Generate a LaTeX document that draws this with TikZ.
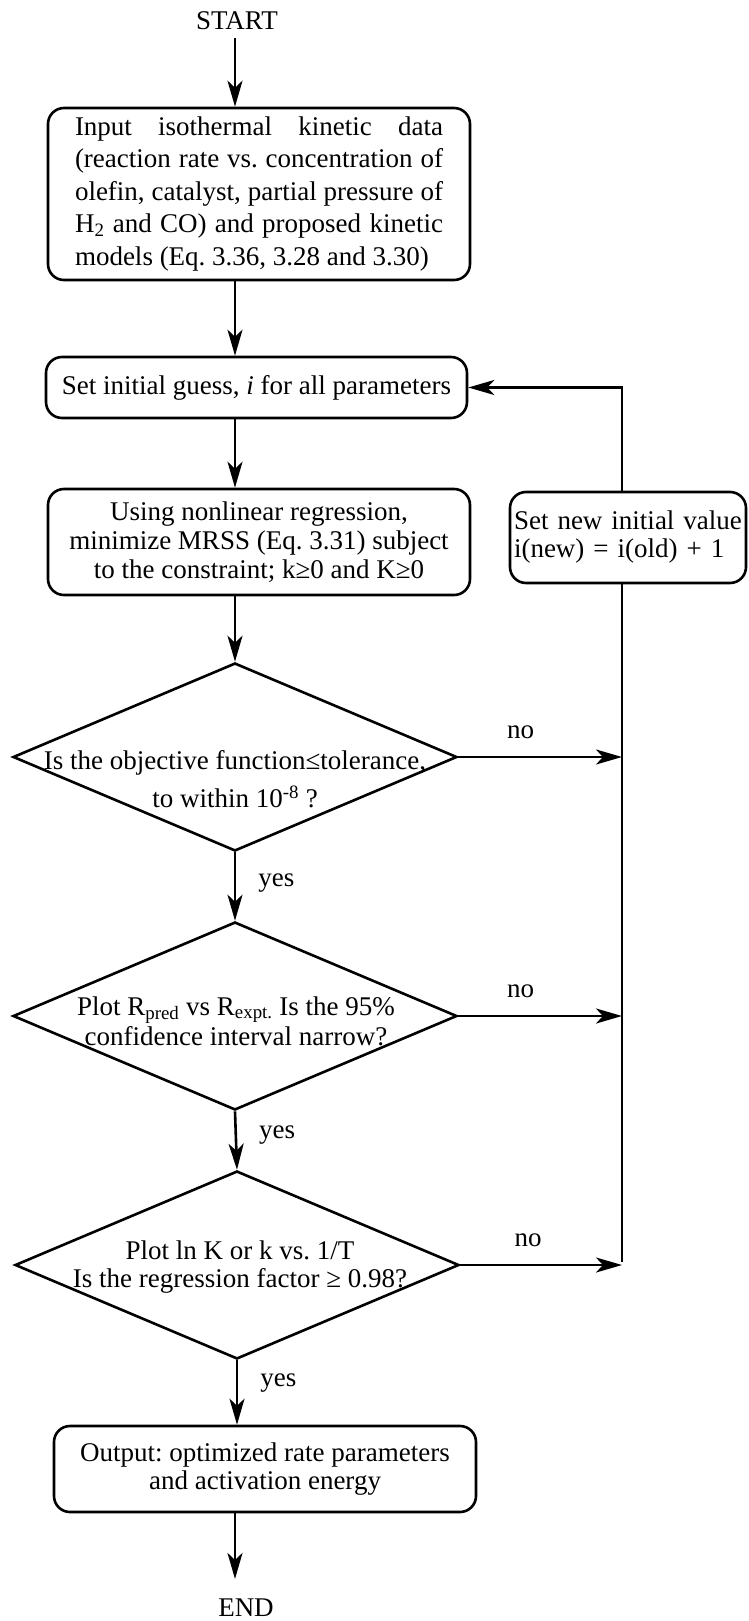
\documentclass[tikz,border=0pt]{standalone}
\usepackage{fontspec}
\setmainfont{Liberation Serif}
\usetikzlibrary{arrows.meta,shapes.geometric,calc}
\begin{document}
\begin{tikzpicture}[x=1pt,y=-1pt,
  every node/.style={font=\fontsize{27}{32.5}\selectfont\frenchspacing},
  box/.style={draw, line width=2.6pt, rounded corners=16pt, inner sep=0pt},
  dia/.style={draw, diamond, line width=2.6pt, inner sep=0pt, minimum width=444pt, minimum height=188pt},
  arr/.style={line width=2.6pt, -{Stealth[length=26pt,width=15pt,inset=7pt]}},
  ln/.style={line width=2.6pt},
  lab/.style={inner sep=0pt},
  yeslab/.style={lab, right=22pt},
  nolab/.style={lab, above=17pt}]
\useasboundingbox (0,0) rectangle (748,1621);

\coordinate (ax) at (235,0);
\coordinate (c) at (622,1262);

\node[lab] (start) at (237,21) {START};

\node[box, minimum width=422pt, minimum height=172pt] (b1) at (259,194) {\parbox{368pt}{%
\makebox[368pt][s]{Input isothermal kinetic data}\\
\makebox[368pt][s]{(reaction rate vs. concentration of}\\
\makebox[368pt][s]{olefin, catalyst, partial pressure of}\\
\makebox[368pt][s]{H\textsubscript{2} and CO) and proposed kinetic}\\
models (Eq. 3.36, 3.28 and 3.30)}};

\node[box, minimum width=421pt, minimum height=61pt] (b2) at (256.5,387.5) {Set initial guess, \textit{i} for all parameters};

\node[box, minimum width=422pt, minimum height=106pt, align=center,
  font=\fontsize{27}{29}\selectfont\frenchspacing] (b3) at (259,542)
  {Using nonlinear regression,\\minimize MRSS (Eq. 3.31) subject\\to the constraint; k≥0 and K≥0};

\node[box, minimum width=236pt, minimum height=91pt, align=left, text width=228pt,
  font=\fontsize{27}{28}\selectfont\frenchspacing] (rb) at (628,537.5)
  {Set new initial value\\i(new) = i(old) + 1};

\node[dia] (d1) at (235,757) {};
\node[lab, align=center] (t1) at (235,779) {Is the objective function≤tolerance,\\[6pt]to within 10\textsuperscript{-8} ?};

\node[dia] (d2) at (235,1016) {};
\node[lab, align=center, font=\fontsize{27}{30}\selectfont\frenchspacing] (t2) at (236,1021)
  {Plot R\textsubscript{pred} vs R\textsubscript{expt.} Is the 95\%\\confidence interval narrow?};

\node[dia] (d3) at (237,1265) {};
\node[lab, align=center, font=\fontsize{27}{28}\selectfont\frenchspacing] (t3) at (240,1267)
  {Plot ln K or k vs. 1/T\\Is the regression factor ≥ 0.98?};

\node[box, minimum width=422pt, minimum height=86pt, align=center,
  font=\fontsize{27}{28}\selectfont\frenchspacing] (out) at (265,1469)
  {Output: optimized rate parameters\\and activation energy};

\node[lab] (end) at (246,1608) {END};

% main flow
\draw[arr, shorten <=8pt] (start.south -| ax) -- (b1.north -| ax);
\draw[arr] (b1.south -| ax) -- (b2.north -| ax);
\draw[arr] (b2.south -| ax) -- (b3.north -| ax);
\draw[arr] (b3.south -| ax) -- (d1.north);
\draw[arr] (d1.south) -- node[yeslab, pos=0.45] {yes} (d2.north);
\draw[arr] (d2.south) -- node[yeslab, pos=0.4] {yes} (d3.north);
\draw[arr] (d3.south) -- node[yeslab, pos=0.36] {yes} (d3.south |- out.north);
\draw[arr, shorten >=20pt] (out.south -| ax) -- (end.north -| ax);

% no branches and loop
\draw[arr] (d1.east) -- node[nolab, pos=0.38] {no} (d1.east -| c);
\draw[arr] (d2.east) -- node[nolab, pos=0.38] {no} (d2.east -| c);
\draw[arr] (d3.east) -- node[nolab, pos=0.42] {no} (d3.east -| c);
\draw[ln] (rb.south -| c) -- (c);
\draw[arr] (rb.north -| c) |- (b2.east);
\end{tikzpicture}
\end{document}
